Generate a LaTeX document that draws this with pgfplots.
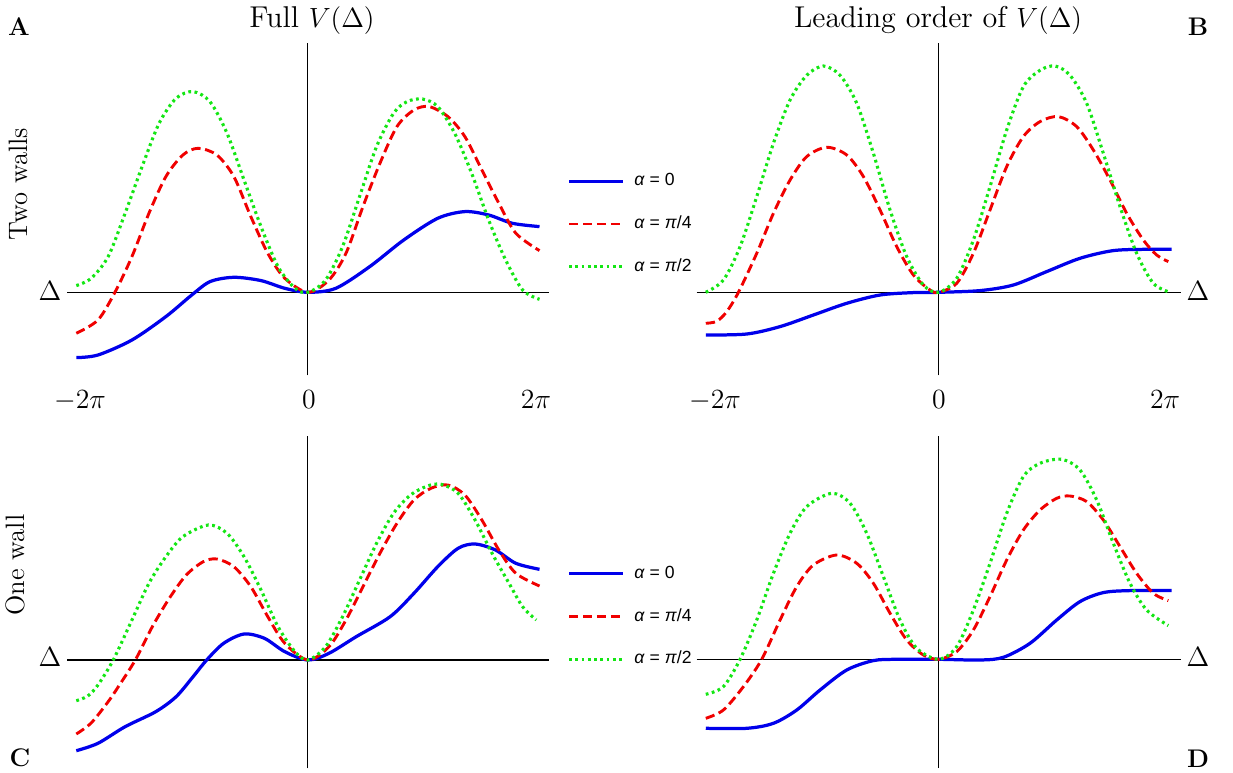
\documentclass[border=0pt]{standalone}
\usepackage{fontspec}
\usepackage{pgfplots}
\pgfplotsset{compat=1.18}
\newfontfamily\legfont{Liberation Sans}
\definecolor{cblue}{RGB}{0,0,235}
\definecolor{cred}{RGB}{240,0,0}
\definecolor{cgreen}{RGB}{20,230,20}

\pgfplotsset{
  panel/.style={scale only axis, axis lines=middle,
    axis line style={-, line width=0.45pt, black},
    xtick=\empty, ytick=\empty, xmin=-6.53, xmax=6.53,
    enlargelimits=false, clip=false, anchor=north west},
  s0/.style={cblue, line width=1.4pt, smooth},
  s1/.style={cred, line width=1.25pt, dash pattern=on 4pt off 2pt, smooth},
  s2/.style={cgreen, line width=1.35pt, dash pattern=on 1.2pt off 1.5pt, smooth},
  leg/.style={legend style={at={(1.0382,#1)}, anchor=west, draw=none, fill=none,
    inner sep=0pt, row sep=11.5pt, column sep=4.2pt,
    font=\legfont\fontsize{7.6}{9}\selectfont,
    nodes={inner sep=0pt, text height=5.5pt, text depth=1.5pt}},
    legend cell align=left},
  legend image code/.code={\draw[#1] (0pt,0pt) -- (23.3pt,0pt);},
}
\newcommand\labfont{\fontsize{13}{15}\selectfont}

\begin{document}
\begin{tikzpicture}[x=0.4319pt, y=-0.4319pt]
\path[use as bounding box] (0,0) rectangle (1233,772);
\coordinate (pA) at (67.2,43.3);
\coordinate (pB) at (696.6,43.3);
\coordinate (pC) at (67.2,436);
\coordinate (pD) at (696.6,436);

% A: two walls, full potential
\begin{axis}[panel, at={(pA)}, width=207.92pt, height=143.39pt,
  ymin=-83, ymax=249, leg=0.4557]
\addplot[s0] coordinates {(-6.283,-65.3) (-5.696,-62.7) (-4.774,-47.7) (-3.853,-24.3) (-3.161,-3) (-2.654,10.7) (-2.009,15) (-1.272,11.7) (-0.627,4) (0,0) (0.756,4) (1.677,25.7) (2.599,52.3) (3.521,74) (4.258,80.7) (4.903,77.3) (5.548,69) (6.283,65.7)};
\addplot[s1] coordinates {(-6.283,-41) (-5.696,-27.7) (-5.235,0) (-4.774,35.7) (-4.313,79) (-3.853,115.7) (-3.392,137.3) (-2.977,144) (-2.470,137.3) (-2.009,115.7) (-1.548,75.7) (-1.088,39) (-0.627,14) (0,0) (0.571,12.3) (1.032,39) (1.493,85.7) (1.954,129) (2.415,165.7) (2.876,182.3) (3.290,185.7) (3.797,175.7) (4.258,155.7) (4.719,122.3) (5.180,89) (5.641,59) (6.283,41.7)};
\addplot[s2] coordinates {(-6.283,6.7) (-5.880,14) (-5.419,35.7) (-4.959,79) (-4.498,125.7) (-4.037,169) (-3.576,194) (-3.115,200.7) (-2.654,190.5) (-2.194,159) (-1.733,112.3) (-1.272,65.7) (-0.811,25.7) (-0.350,4) (0,0) (0.479,12.3) (0.940,45.7) (1.401,95.7) (1.862,145.7) (2.323,179) (2.691,190.7) (3.106,193.3) (3.521,185.7) (3.982,159) (4.442,119) (4.903,72.3) (5.364,32.3) (5.825,2.3) (6.283,-7)};
\legend{\textit{α} = 0, \textit{α} = \textit{π}/4, \textit{α} = \textit{π}/2}
\end{axis}

% B: two walls, leading order
\begin{axis}[panel, at={(pB)}, width=209.13pt, height=143.39pt,
  ymin=-83, ymax=249]
\addplot[s0] coordinates {(-6.283,-42.7) (-5.178,-41.7) (-4.279,-34.3) (-3.380,-22.7) (-2.481,-11) (-1.582,-2.7) (-0.683,-0.3) (0,0) (1.115,1.7) (2.013,7.3) (2.912,20.7) (3.811,34) (4.710,41.7) (5.609,43) (6.283,43)};
\addplot[s1] coordinates {(-6.283,-31) (-5.987,-29) (-5.717,-19.3) (-5.402,0) (-4.908,39) (-4.458,79) (-4.009,112.3) (-3.560,135.7) (-3.020,145) (-2.481,137.3) (-2.031,115.7) (-1.582,82.3) (-1.133,45.7) (-0.683,17.3) (-0.234,2.3) (0,0) (0.485,9) (0.935,39) (1.384,82.3) (1.834,125.7) (2.283,155.7) (2.733,170.7) (3.227,175.7) (3.721,165.7) (4.171,142.3) (4.620,112.3) (5.070,79) (5.519,52.3) (5.879,37.3) (6.193,30.7)};
\addplot[s2] coordinates {(-6.283,0) (-5.807,12.3) (-5.357,45.7) (-4.908,95.7) (-4.458,149) (-4.009,192.3) (-3.560,217) (-3.110,226.3) (-2.661,217) (-2.211,189) (-1.762,139) (-1.312,82.3) (-0.863,35.7) (-0.413,7.3) (0,0) (0.485,14) (0.935,52.3) (1.384,105.7) (1.834,162.3) (2.283,205.7) (2.733,222) (3.137,226.3) (3.542,217) (3.991,189) (4.440,139) (4.890,85.7) (5.339,39) (5.789,9) (6.238,0)};
\end{axis}

% C: one wall, full potential
\begin{axis}[panel, at={(pC)}, width=207.92pt, height=143.52pt,
  ymin=-108.3, ymax=224, leg=0.4568]
\addplot[s0] coordinates {(-6.283,-90.7) (-5.696,-83.3) (-4.959,-66.7) (-4.129,-51.7) (-3.576,-36.7) (-3.115,-16.7) (-2.747,0) (-2.286,16.7) (-1.733,26) (-1.180,21.7) (-0.627,8.3) (0,0) (0.571,6.7) (1.309,23.3) (2.230,43.3) (2.876,66.7) (3.521,93.3) (4.074,111.7) (4.535,116) (5.088,110) (5.641,96.7) (6.283,90.7)};
\addplot[s1] coordinates {(-6.283,-74) (-5.880,-63) (-5.419,-41.7) (-5.143,-26.7) (-4.682,0) (-4.221,33.3) (-3.760,61.7) (-3.300,85) (-2.839,98.3) (-2.470,101) (-2.009,93.3) (-1.548,73.3) (-1.088,43.3) (-0.627,16.7) (0,0) (0.571,13.3) (1.032,40) (1.493,73.3) (1.954,106.7) (2.415,136.7) (2.876,160) (3.336,171.7) (3.797,175) (4.258,165) (4.719,140) (5.180,110) (5.641,86.7) (6.283,74)};
\addplot[s2] coordinates {(-6.283,-40.7) (-5.972,-36) (-5.696,-25) (-5.281,0) (-4.774,40) (-4.313,76.7) (-3.853,103.3) (-3.392,123.3) (-2.700,135) (-2.194,126.7) (-1.733,103.3) (-1.272,70) (-0.811,33.3) (-0.350,8.3) (0,0) (0.479,13.3) (0.940,43.3) (1.401,80) (1.862,116.7) (2.323,146.7) (2.783,165) (3.244,174) (3.613,175.7) (4.074,166.7) (4.535,140) (4.995,106.7) (5.456,76.7) (5.825,53.3) (6.194,40)};
\legend{\textit{α} = 0, \textit{α} = \textit{π}/4, \textit{α} = \textit{π}/2}
\end{axis}

% D: one wall, leading order
\begin{axis}[panel, at={(pD)}, width=209.13pt, height=143.39pt,
  ymin=-108.7, ymax=223.3]
\addplot[s0] coordinates {(-6.283,-69) (-5.178,-69) (-4.458,-64) (-3.829,-50.7) (-3.200,-30.7) (-2.481,-10.7) (-1.762,-1.3) (-1.133,0) (0,0) (1.115,-0.7) (1.744,2) (2.463,16) (3.182,39.3) (3.811,57.7) (4.440,66.7) (5.160,68.7) (6.283,68.7)};
\addplot[s1] coordinates {(-6.283,-59) (-5.807,-50.7) (-5.267,-27.3) (-4.773,0) (-4.279,39.3) (-3.829,72.7) (-3.380,94.3) (-2.751,104.3) (-2.211,96) (-1.762,76) (-1.312,46) (-0.863,19.3) (-0.413,4.3) (0,0) (0.485,7.7) (0.935,29.3) (1.384,62.7) (1.834,99.3) (2.283,129.3) (2.733,149.3) (3.182,161) (3.542,163.3) (3.991,157.7) (4.440,139.3) (4.890,112.7) (5.339,86) (5.789,66) (6.193,58.7)};
\addplot[s2] coordinates {(-6.283,-35) (-5.807,-27.3) (-5.357,0) (-4.908,39.3) (-4.458,86) (-4.009,126) (-3.560,152.7) (-2.885,166) (-2.391,156) (-1.942,126) (-1.492,82.7) (-1.043,39.3) (-0.593,11) (0,0) (0.485,12.7) (0.935,49.3) (1.384,96) (1.834,146) (2.283,182.7) (2.733,196) (3.317,200) (3.811,189.3) (4.261,159.3) (4.710,116) (5.160,76) (5.609,49.3) (6.193,33.7)};
\end{axis}

% titles and labels
\node[anchor=base, font=\labfont] at (312,28) {Full $V(\Delta)$};
\node[anchor=base, font=\labfont] at (938,28) {Leading order of $V(\Delta)$};
\node[anchor=base, font=\fontsize{11}{13}\selectfont\bfseries] at (19,36) {A};
\node[anchor=base, font=\fontsize{11}{13}\selectfont\bfseries] at (1198,36) {B};
\node[anchor=base, font=\fontsize{11}{13}\selectfont\bfseries] at (20,766) {C};
\node[anchor=base, font=\fontsize{11}{13}\selectfont\bfseries] at (1198,767) {D};
\node[anchor=base, rotate=90, font=\fontsize{11.5}{13}\selectfont] at (27,184) {Two walls};
\node[anchor=base, rotate=90, font=\fontsize{11.5}{13}\selectfont] at (25,565) {One wall};
\node[font=\labfont] at (50,291) {$\Delta$};
\node[font=\labfont] at (1198,291) {$\Delta$};
\node[font=\labfont] at (50,657) {$\Delta$};
\node[font=\labfont] at (1198,657) {$\Delta$};
\node[anchor=base, font=\labfont] at (80,408) {$-2\pi$};
\node[anchor=base, font=\labfont] at (309,408) {$0$};
\node[anchor=base, font=\labfont] at (536,408) {$2\pi$};
\node[anchor=base, font=\labfont] at (715,408) {$-2\pi$};
\node[anchor=base, font=\labfont] at (939,408) {$0$};
\node[anchor=base, font=\labfont] at (1165,408) {$2\pi$};
\end{tikzpicture}
\end{document}
